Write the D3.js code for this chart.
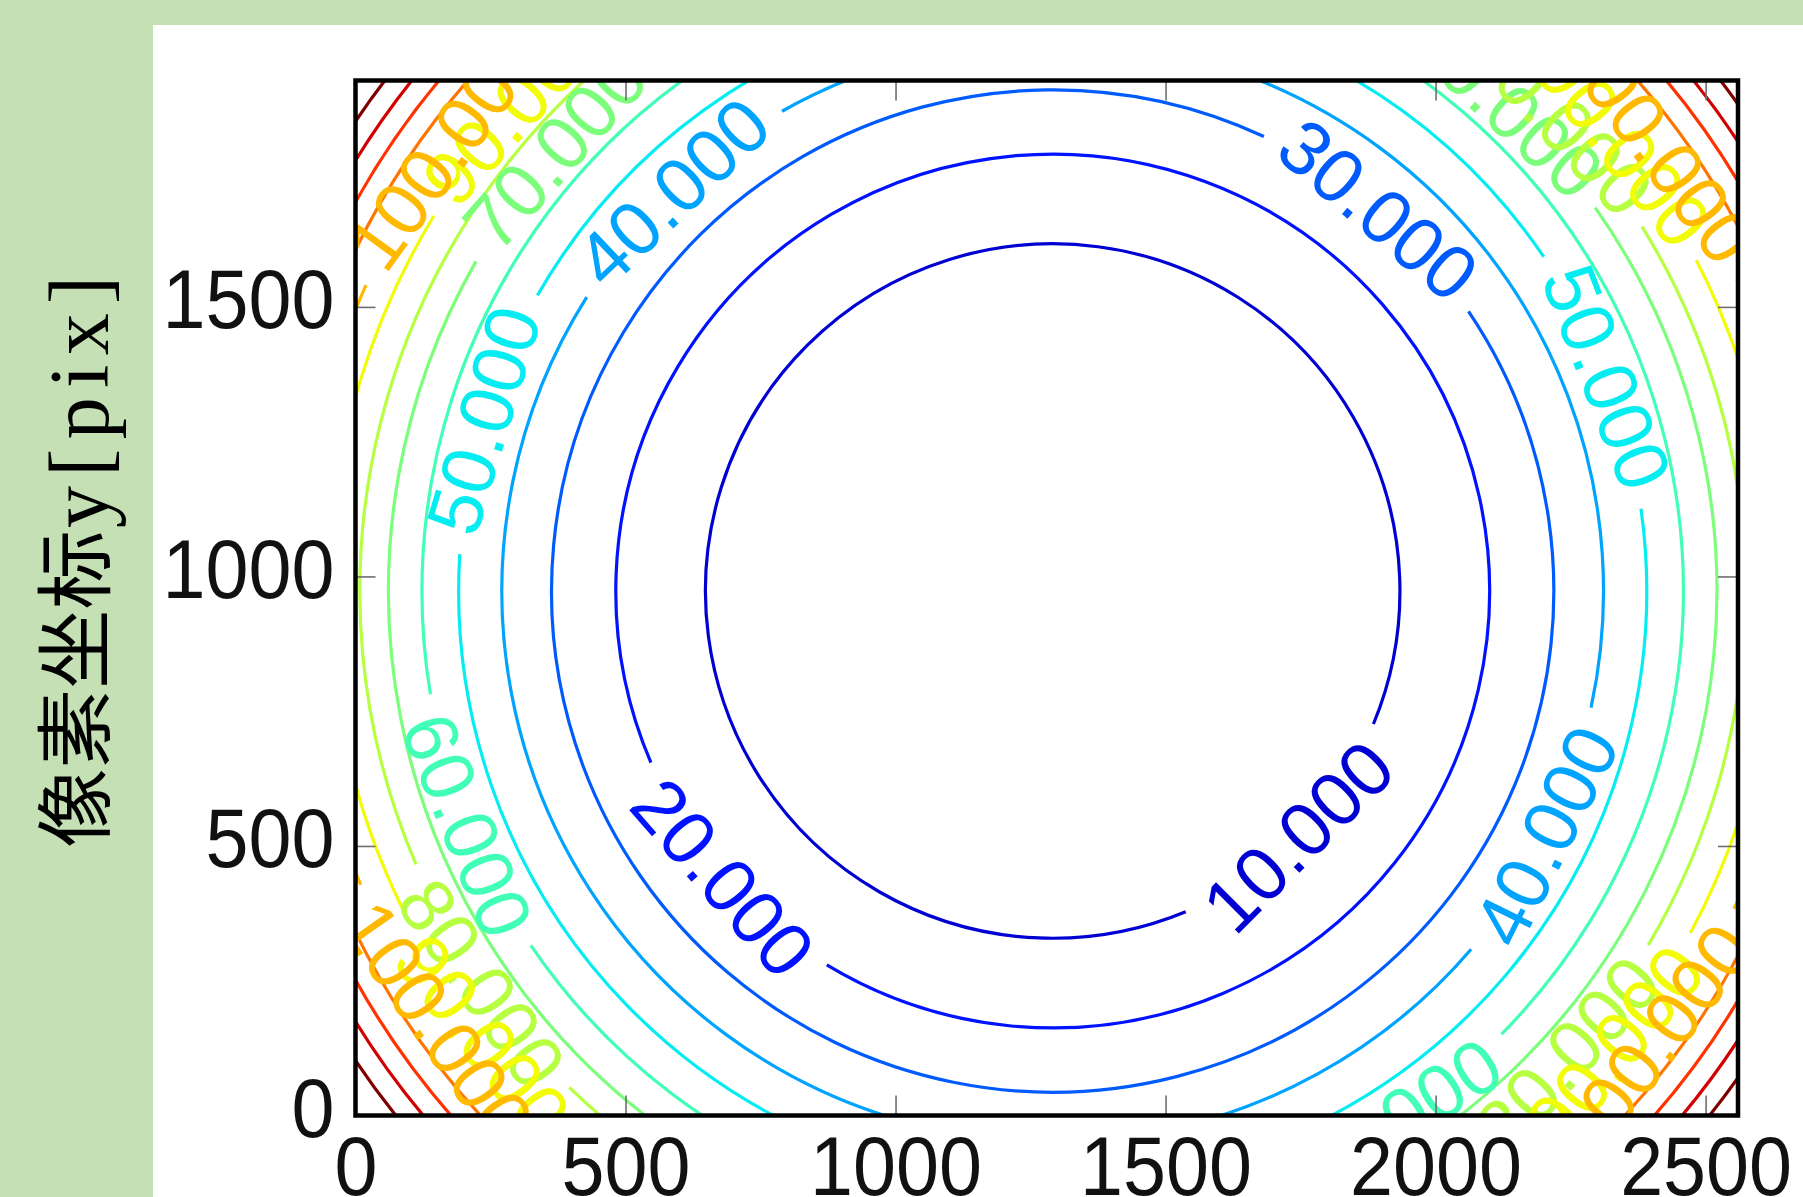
<!DOCTYPE html>
<html>
<head>
<meta charset="utf-8">
<script src="https://cdn.jsdelivr.net/npm/d3@7"></script>
<style>
  html, body { margin: 0; padding: 0; background: #c5e0b4; }
  svg { display: block; }
</style>
</head>
<body>
<svg id="chart" width="1803" height="1197"></svg>
<script>

// contour levels and the radius of each ring (in pixel-coordinate units)
const levels = [10, 20, 30, 40, 50, 60, 70, 80, 90, 100, 110, 120, 130, 140];
const radii  = [643, 809, 928, 1020, 1100, 1168, 1230, 1283, 1340, 1392, 1437, 1478, 1517, 1556];
// where the inline labels sit on each ring, degrees counter-clockwise from +x
const labelAngles = [
    [-45], [-139], [49.5], [133.6, -26.4], [163.3, 21.1], [-158.2, -57],
    [138.5, 47], [-145.5, 43, -42], [138, 38, -39, -142], [144, 36.5, -37, -145],
    [], [], [], []
];
const centre = [1291, 973];
const xTicks = [0, 500, 1000, 1500, 2000, 2500];
const yTicks = [0, 500, 1000, 1500];
const yLabelCjk = "像素坐标";
const yLabelLatin = "y[pix]";


const svg = d3.select('#chart');
const W = +svg.attr('width'), H = +svg.attr('height');
const TAU = Math.PI * 2;

svg.append('rect')
    .attr('x', 0).attr('y', 0).attr('width', W).attr('height', H)
    .attr('fill', '#c5e0b4');
svg.append('rect')
    .attr('x', 153).attr('y', 25).attr('width', W - 153).attr('height', H - 25)
    .attr('fill', '#ffffff');

const box = {left: 355.5, top: 80.5, right: 1738, bottom: 1115.5};

const x = d3.scaleLinear().domain([0, 2560]).range([box.left, box.right]);
const y = d3.scaleLinear().domain([0, 1920]).range([box.bottom, box.top]);

// matplotlib "jet"
const jetR = d3.scaleLinear().domain([0, 0.35, 0.66, 0.89, 1]).range([0, 0, 1, 1, 0.5]).clamp(true);
const jetG = d3.scaleLinear().domain([0, 0.125, 0.375, 0.64, 0.91, 1]).range([0, 0, 1, 1, 0, 0]).clamp(true);
const jetB = d3.scaleLinear().domain([0, 0.11, 0.34, 0.65, 1]).range([0.5, 1, 1, 0, 0]).clamp(true);
const norm = d3.scaleLinear().domain([0, 140]);
const colour = function(v){
    let t = norm(v);
    return d3.rgb(jetR(t) * 255, jetG(t) * 255, jetB(t) * 255).toString();
};

svg.append('clipPath').attr('id', 'plotclip')
    .append('rect')
    .attr('x', box.left).attr('y', box.top)
    .attr('width', box.right - box.left).attr('height', box.bottom - box.top);

const cx = x(centre[0]), cy = y(centre[1]);
const fmt = d3.format('.3f');

// labels first so their widths can cut the gaps in the rings
const labelLayer = svg.append('g').attr('clip-path', 'url(#plotclip)');
const lineLayer = svg.insert('g', () => labelLayer.node()).attr('clip-path', 'url(#plotclip)');

levels.forEach(function(lv, i){
    let r = x(radii[i]) - x(0);
    let gaps = [];
    labelAngles[i].forEach(function(a){
        let th = a * Math.PI / 180;
        let s = -th;
        let px = cx + r * Math.cos(s), py = cy + r * Math.sin(s);
        let rot = Math.atan2(-Math.cos(th), -Math.sin(th)) * 180 / Math.PI;
        if (rot > 90) rot -= 180;
        if (rot <= -90) rot += 180;
        let t = labelLayer.append('text')
            .attr('transform', `translate(${px},${py}) rotate(${rot})`)
            .attr('text-anchor', 'middle')
            .attr('dominant-baseline', 'central')
            .style('font-family', '"Liberation Sans", Arial, sans-serif')
            .style('font-size', '76px')
            .style('fill', colour(lv))
            .text(fmt(lv));
        let w = t.node().getComputedTextLength();
        let half = (w / 2 + 20) / r;
        gaps.push([s - half, s + half]);
    });

    let p = d3.path();
    if (!gaps.length) {
        p.moveTo(cx + r, cy);
        p.arc(cx, cy, r, 0, TAU);
    } else {
        gaps = gaps.map(function(g){
            let s0 = ((g[0] % TAU) + TAU) % TAU;
            return [s0, s0 + (g[1] - g[0])];
        }).sort((a, b) => a[0] - b[0]);
        for (let k = 0; k < gaps.length; k++) {
            let a0 = gaps[k][1];
            let a1 = k + 1 < gaps.length ? gaps[k + 1][0] : gaps[0][0] + TAU;
            if (a1 <= a0) continue;
            p.moveTo(cx + r * Math.cos(a0), cy + r * Math.sin(a0));
            p.arc(cx, cy, r, a0, a1);
        }
    }
    lineLayer.append('path')
        .attr('d', p.toString())
        .attr('fill', 'none')
        .attr('stroke', colour(lv))
        .attr('stroke-width', 3.2);
});

// axes, ticks pointing inward on all four sides
const tickStyle = function(g){
    g.select('.domain').remove();
    g.selectAll('.tick line').attr('stroke', '#6e6e6e').attr('stroke-width', 1.6);
    g.selectAll('.tick text')
        .style('font-family', '"Liberation Sans", Arial, sans-serif')
        .style('font-size', '84px')
        .attr('fill', '#111')
        .each(function(){
            let w = this.getComputedTextLength();
            d3.select(this).attr('textLength', w * 0.92).attr('lengthAdjust', 'spacingAndGlyphs');
        });
};

svg.append('g')
    .attr('transform', `translate(0,${box.bottom})`)
    .call(d3.axisBottom(x).tickValues(xTicks).tickSizeInner(-20).tickSizeOuter(0).tickPadding(20).tickFormat(d3.format('d')))
    .call(tickStyle);

svg.append('g')
    .attr('transform', `translate(0,${box.top})`)
    .call(d3.axisTop(x).tickValues(xTicks).tickSizeInner(-20).tickSizeOuter(0).tickFormat(''))
    .call(tickStyle);

svg.append('g')
    .attr('transform', `translate(${box.left},0)`)
    .call(d3.axisLeft(y).tickValues(yTicks).tickSizeInner(-20).tickSizeOuter(0).tickPadding(21).tickFormat(d3.format('d')))
    .call(tickStyle)
    .selectAll('.tick text').attr('dy', '0.25em');

svg.append('g')
    .attr('transform', `translate(${box.right},0)`)
    .call(d3.axisRight(y).tickValues(yTicks).tickSizeInner(-20).tickSizeOuter(0).tickFormat(''))
    .call(tickStyle);

svg.append('rect')
    .attr('x', box.left).attr('y', box.top)
    .attr('width', box.right - box.left).attr('height', box.bottom - box.top)
    .attr('fill', 'none')
    .attr('stroke', '#000')
    .attr('stroke-width', 4.5);

// y axis title, rotated
svg.append('text')
    .attr('transform', 'translate(104,848) rotate(-90)')
    .attr('text-anchor', 'start')
    .attr('textLength', 318)
    .attr('lengthAdjust', 'spacingAndGlyphs')
    .style('font-family', '"Noto Sans CJK SC", sans-serif')
    .style('font-size', '78px')
    .attr('fill', '#000')
    .text(yLabelCjk);

svg.append('text')
    .attr('transform', 'translate(108,528) rotate(-90)')
    .attr('text-anchor', 'start')
    .attr('textLength', 252)
    .attr('lengthAdjust', 'spacing')
    .style('font-family', '"Liberation Serif", "DejaVu Serif", serif')
    .style('font-size', '84px')
    .attr('fill', '#000')
    .text(yLabelLatin);

</script>
</body>
</html>
